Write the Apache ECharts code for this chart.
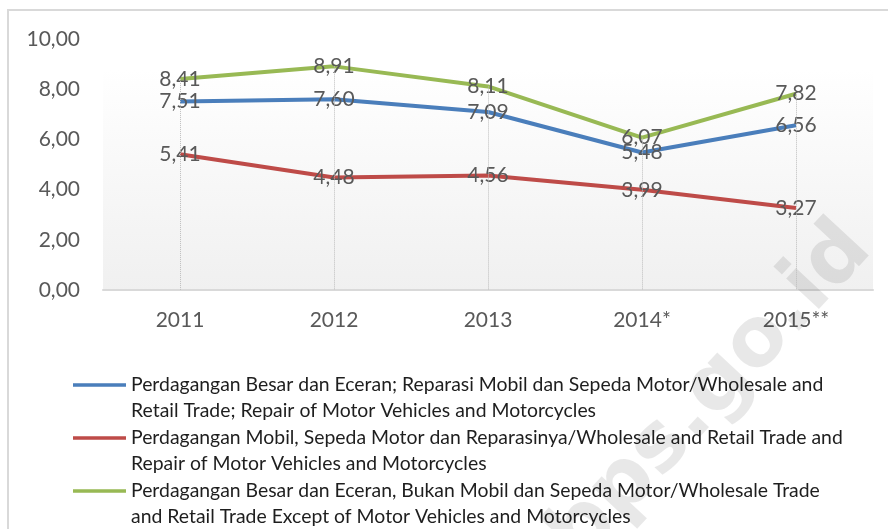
<!DOCTYPE html>
<html>
<head>
<meta charset="utf-8">
<script src="https://cdn.jsdelivr.net/npm/echarts@6/dist/echarts.min.js"></script>
<style>
  html, body { margin: 0; padding: 0; background: #fff; }
  #chart { width: 888px; height: 529px; }
</style>
</head>
<body>
<div id="chart"></div>
<script>
const categories = ['2011', '2012', '2013', '2014*', '2015**']
const yTicks = [0, 2, 4, 6, 8, 10]

const seriesNames = [
  'Perdagangan Besar dan Eceran; Reparasi Mobil dan Sepeda Motor/Wholesale and\nRetail Trade; Repair of Motor Vehicles and Motorcycles',
  'Perdagangan Mobil, Sepeda Motor dan Reparasinya/Wholesale and Retail Trade and\nRepair of Motor Vehicles and Motorcycles',
  'Perdagangan Besar dan Eceran, Bukan Mobil dan Sepeda Motor/Wholesale Trade\nand Retail Trade Except of Motor Vehicles and Motorcycles'
]
const totalTrade = [7.51, 7.60, 7.09, 5.48, 6.56]
const motorTrade = [5.41, 4.48, 4.56, 3.99, 3.27]
const exceptMotor = [8.41, 8.91, 8.11, 6.07, 7.82]

const colors = ['#4a7ebb', '#be4b48', '#98b954']
const font = 'Lato, "Open Sans", sans-serif'

const fmt = v => Number(v).toFixed(2).replace('.', ',')

const chart = echarts.init(document.getElementById('chart'))

const lineSeries = (name, data, color) => ({
  name,
  type: 'line',
  data,
  z: 3,
  symbol: 'circle',
  symbolSize: 0.1,
  itemStyle: { color },
  lineStyle: { color, width: 4 },
  label: {
    show: true,
    position: 'inside',
    formatter: p => fmt(p.value),
    color: '#595959',
    fontFamily: font,
    fontSize: 21
  },
  emphasis: { disabled: true }
})

// drop lines from the top value down to the axis
const maxVals = categories.map((c, i) => Math.max(totalTrade[i], motorTrade[i], exceptMotor[i]))

const option = {
  animation: false,
  backgroundColor: '#fff',
  graphic: [
    {
      type: 'rect',
      z: -10,
      shape: { x: 8, y: 10, width: 920, height: 560 },
      style: { fill: 'none', stroke: '#d9d9d9', lineWidth: 2 }
    },
    {
      type: 'text',
      z: 1,
      x: 858,
      y: 236,
      rotation: 47 * Math.PI / 180,
      style: {
        text: 'www.bps.go.id',
        font: 'bold 82px "DejaVu Sans", sans-serif',
        fill: 'rgba(0,0,0,0.09)',
        align: 'right',
        verticalAlign: 'middle'
      }
    }
  ],
  grid: {
    left: 103,
    right: 15,
    top: 39,
    bottom: 239,
    show: true,
    borderWidth: 0,
    backgroundColor: new echarts.graphic.LinearGradient(0, 0, 0, 1, [
      { offset: 0, color: '#ffffff' },
      { offset: 0.12, color: '#ffffff' },
      { offset: 1, color: '#f0f0f0' }
    ])
  },
  legend: {
    orient: 'vertical',
    left: 73,
    top: 372,
    height: 170,
    itemWidth: 53,
    itemHeight: 52,
    itemGap: 1,
    padding: 0,
    selectedMode: false,
    data: seriesNames,
    icon: 'path://M0,0h0.01v0.01h-0.01z M0,11.2h53v3.6h-53z M0,51.99h0.01v0.01h-0.01z',
    itemStyle: { borderWidth: 0 },
    textStyle: {
      color: '#1e1e1e',
      fontFamily: font,
      fontSize: 19.4,
      lineHeight: 26
    }
  },
  xAxis: {
    type: 'category',
    data: categories,
    boundaryGap: true,
    axisLine: { lineStyle: { color: '#d9d9d9', width: 2 } },
    axisTick: { show: false },
    splitLine: { show: false },
    axisLabel: {
      color: '#595959',
      fontFamily: font,
      fontSize: 21,
      margin: 20
    }
  },
  yAxis: {
    type: 'value',
    min: yTicks[0],
    max: yTicks[yTicks.length - 1],
    interval: yTicks[1] - yTicks[0],
    axisLine: { show: false },
    axisTick: { show: false },
    splitLine: { show: false },
    axisLabel: {
      color: '#595959',
      fontFamily: font,
      fontSize: 21,
      margin: 23,
      formatter: v => fmt(v)
    }
  },
  series: [
    {
      name: 'drop',
      type: 'line',
      data: maxVals,
      z: 1,
      symbol: 'none',
      silent: true,
      lineStyle: { width: 0, opacity: 0 },
      markLine: {
        silent: true,
        symbol: ['none', 'none'],
        label: { show: false },
        lineStyle: { type: 'dotted', color: '#bdbdbd', width: 1 },
        data: maxVals.map((v, i) => [{ coord: [i, v] }, { coord: [i, 0] }])
      }
    },
    lineSeries(seriesNames[0], totalTrade, colors[0]),
    lineSeries(seriesNames[1], motorTrade, colors[1]),
    lineSeries(seriesNames[2], exceptMotor, colors[2])
  ]
}

chart.setOption(option)
</script>
</body>
</html>
